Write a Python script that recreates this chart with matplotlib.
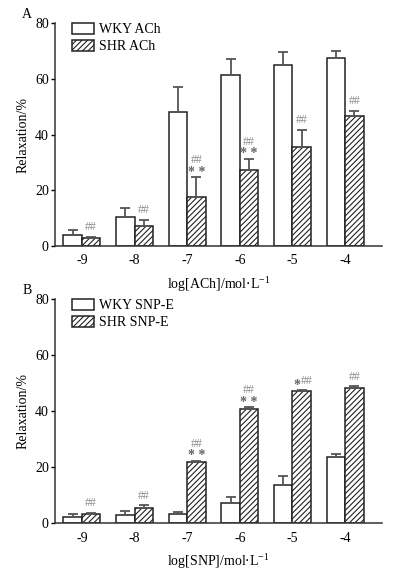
import numpy as np
import matplotlib.pyplot as plt

plt.rcParams['font.family'] = ['Liberation Serif', 'DejaVu Serif']
plt.rcParams['hatch.color'] = '#555555'
plt.rcParams['hatch.linewidth'] = 0.8

# - data
conc = ["-9", "-8", "-7", "-6", "-5", "-4"]

wky_ach = [3.9, 10.5, 48.1, 61.4, 64.8, 67.5]
wky_ach_err = [1.8, 3.1, 9.0, 5.7, 4.7, 2.5]
shr_ach = [3.0, 7.3, 17.6, 27.1, 35.6, 46.5]
shr_ach_err = [0.4, 2.2, 7.1, 4.2, 6.2, 2.0]
stars_ach = ["", "", "**", "**", "", ""]

wky_snp = [2.2, 3.0, 3.2, 7.3, 13.8, 23.5]
wky_snp_err = [1.0, 1.4, 1.0, 2.0, 3.2, 1.4]
shr_snp = [3.3, 5.3, 21.9, 40.6, 47.2, 48.1]
shr_snp_err = [0.4, 1.2, 0.4, 0.8, 0.5, 0.8]
stars_snp = ["", "", "**", "**", "*", ""]

W = 0.35
edge = '#222222'
star_col = '#666666'
hash_col = '#8a8a8a'


def panel(ax, wky, wky_err, shr, shr_err, stars, names, xlabel, letter):
    x = np.arange(len(conc))
    eb = dict(ecolor='#555555', elinewidth=1.3, capsize=3.3, capthick=1.3)
    ax.bar(x - W / 2, wky, W, yerr=[np.zeros(len(wky)), wky_err],
           color='white', edgecolor=edge, linewidth=1.1,
           error_kw=eb, label=names[0], zorder=2)
    ax.bar(x + W / 2, shr, W, yerr=[np.zeros(len(shr)), shr_err],
           color='white', edgecolor=edge, linewidth=1.1, hatch='//////',
           error_kw=eb, label=names[1], zorder=2)

    for i in range(len(conc)):
        top = shr[i] + shr_err[i]
        xi = x[i] + W / 2
        s = stars[i]
        if s == "**":
            ax.annotate("* *", (xi, top), xytext=(0, -1),
                        textcoords='offset points', ha='center', va='bottom',
                        fontsize=10, color=star_col, fontweight='bold')
            ax.annotate("##", (xi, top), xytext=(0, 8),
                        textcoords='offset points', ha='center', va='bottom',
                        fontsize=8.5, color=hash_col)
        elif s == "*":
            ax.annotate("*", (xi - 0.1, top), xytext=(0, -2),
                        textcoords='offset points', ha='center', va='bottom',
                        fontsize=10, color=star_col, fontweight='bold')
            ax.annotate("##", (xi + 0.1, top), xytext=(0, 2),
                        textcoords='offset points', ha='center', va='bottom',
                        fontsize=8.5, color=hash_col)
        else:
            ax.annotate("##", (xi, top), xytext=(0, 2.5),
                        textcoords='offset points', ha='center', va='bottom',
                        fontsize=8.5, color=hash_col)

    ax.set_xlim(-0.51, 5.7)
    ax.set_ylim(0, 80)
    ax.set_yticks([0, 20, 40, 60, 80])
    ax.set_xticks(x)
    ax.set_xticklabels(conc)
    ax.tick_params(axis='x', length=0, pad=6, labelsize=10)
    ax.tick_params(axis='y', length=3, width=1, pad=1.5, labelsize=10,
                   direction='out')
    for s in ['top', 'right']:
        ax.spines[s].set_visible(False)
    for s in ['left', 'bottom']:
        ax.spines[s].set_linewidth(1.1)
        ax.spines[s].set_color('#333333')
    ax.set_ylabel("Relaxation/%", fontsize=10, labelpad=4)
    ax.set_xlabel(xlabel, fontsize=10, labelpad=5)
    ax.legend(loc='upper left', bbox_to_anchor=(0.035, 1.025), frameon=False,
              fontsize=10, handlelength=1.6, handleheight=0.8,
              handletextpad=0.35, labelspacing=0.3, borderaxespad=0)
    ax.text(-0.085, 1.01, letter, transform=ax.transAxes, fontsize=10,
            ha='center', va='bottom')


fig = plt.figure(figsize=(3.96, 5.70), dpi=100)
ax1 = fig.add_axes([0.1389, 0.5684, 0.8258, 0.3912])
ax2 = fig.add_axes([0.1389, 0.0819, 0.8258, 0.3935])

panel(ax1, wky_ach, wky_ach_err, shr_ach, shr_ach_err, stars_ach,
      ["WKY ACh", "SHR ACh"], r"log[ACh]/mol$\cdot$L$^{\mathregular{-1}}$", "A")
panel(ax2, wky_snp, wky_snp_err, shr_snp, shr_snp_err, stars_snp,
      ["WKY SNP-E", "SHR SNP-E"], r"log[SNP]/mol$\cdot$L$^{\mathregular{-1}}$", "B")

fig.savefig("out.png", dpi=100)
